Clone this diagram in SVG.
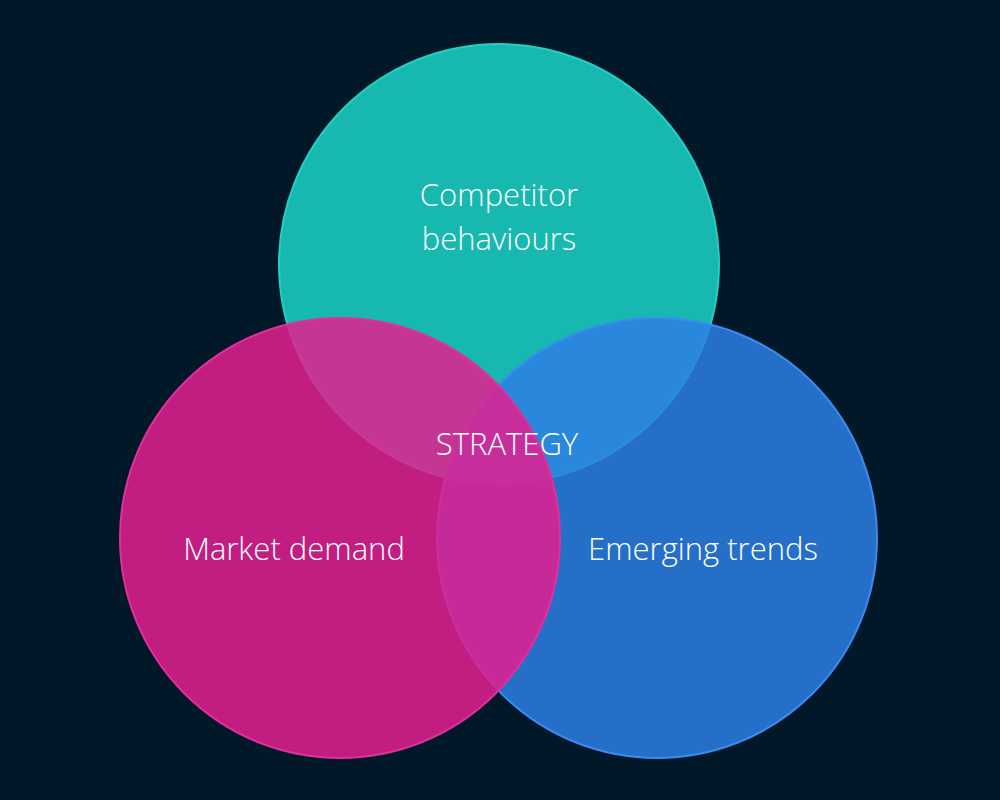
<svg xmlns="http://www.w3.org/2000/svg" width="1000" height="800" viewBox="0 0 1000 800">
<style>
.c{stroke-width:2}
text{font-family:"Open Sans","Liberation Sans",sans-serif;font-weight:300;font-size:31px;fill:#fff;text-anchor:middle;dominant-baseline:middle}
</style>
<rect width="1000" height="800" fill="#001828"/>
<g id="competitor"><circle class="c" cx="499" cy="264" r="220" fill="#16b8b0" stroke="#22d0c4"/></g>
<g id="emerging"><circle class="c" cx="657" cy="538" r="220" fill="#2d7fe4" fill-opacity="0.85" stroke="#3a8cf0"/></g>
<g id="market"><circle class="c" cx="340" cy="538" r="220" fill="#e41f8f" fill-opacity="0.85" stroke="#e0309a"/></g>
<text x="499" y="198">Competitor</text>
<text x="499" y="242">behaviours</text>
<text x="294" y="552">Market demand</text>
<text x="703" y="552">Emerging trends</text>
<g id="strategy"><text x="507" y="447">STRATEGY</text></g>
</svg>
